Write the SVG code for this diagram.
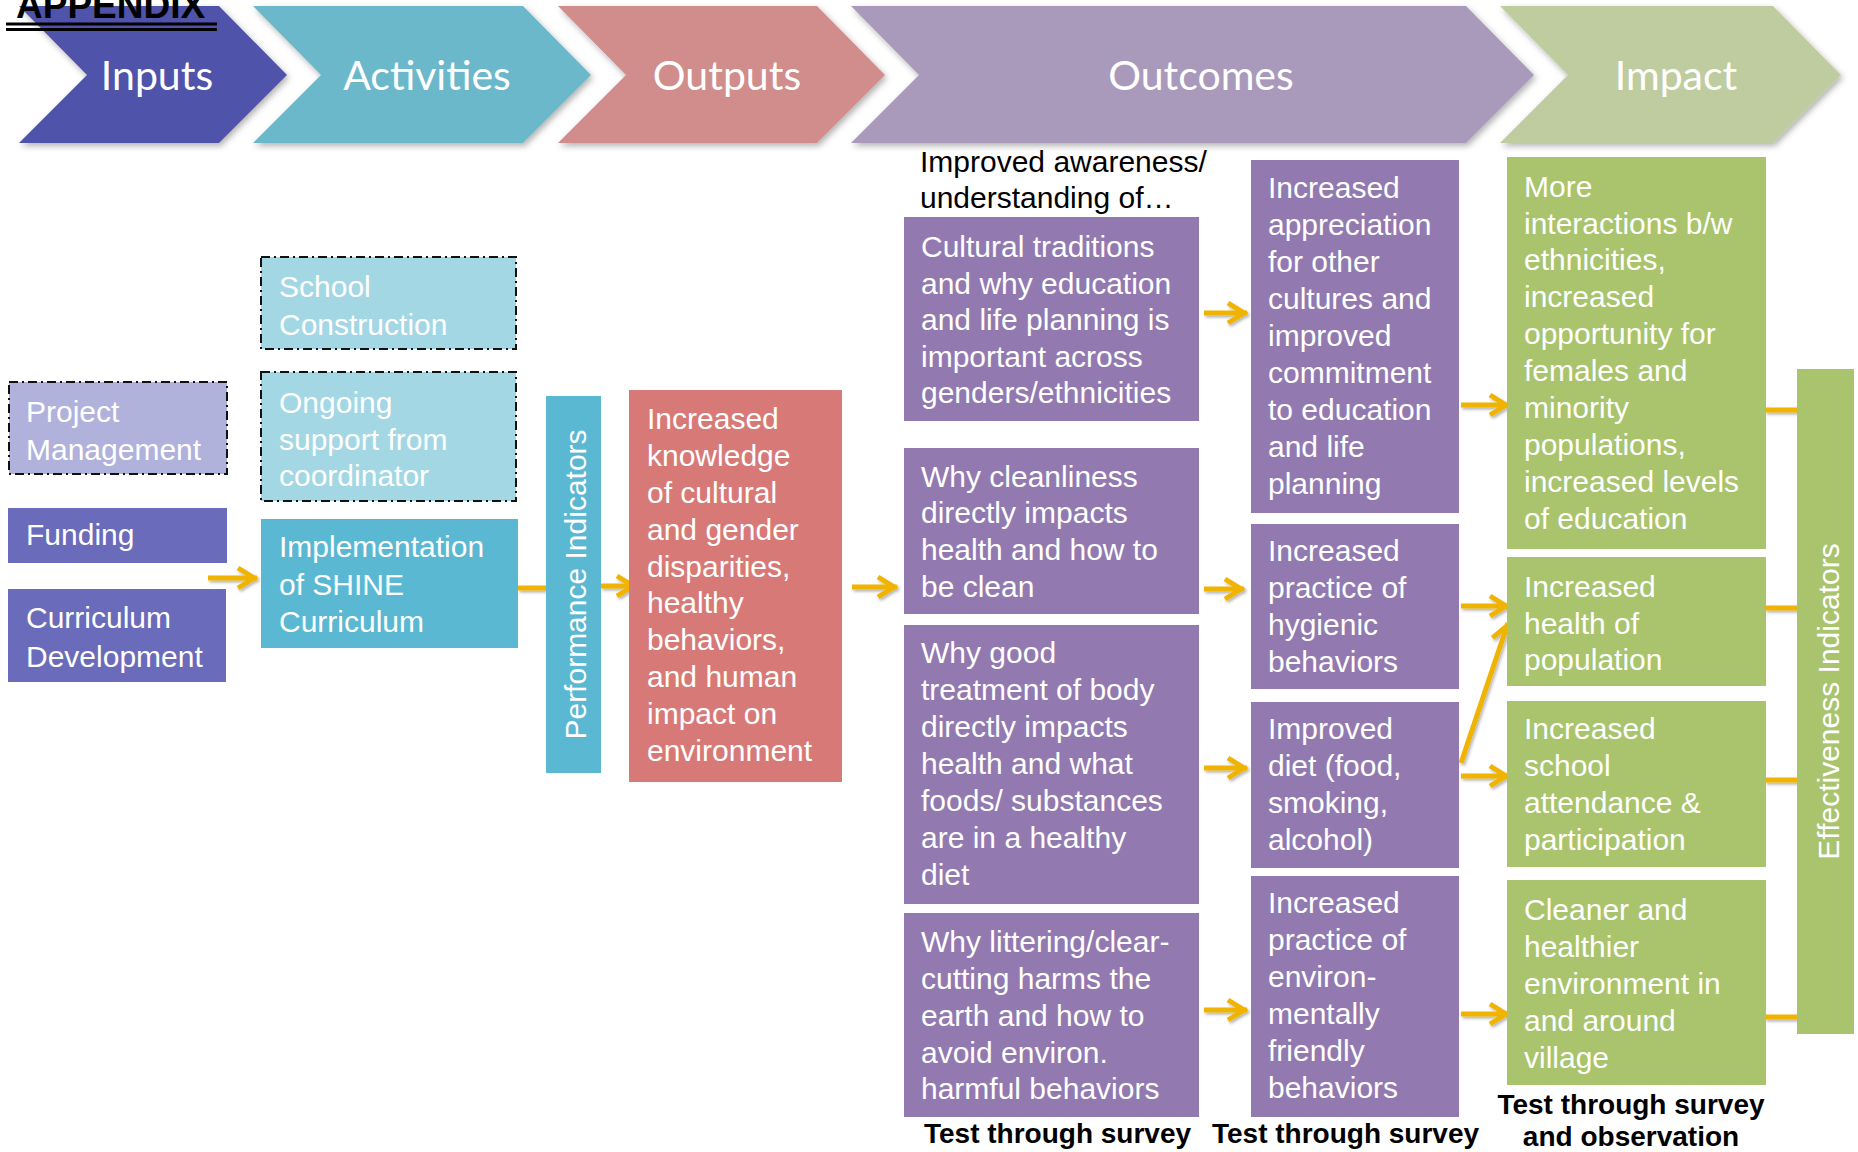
<svg xmlns="http://www.w3.org/2000/svg" width="1858" height="1152" viewBox="0 0 1858 1152">
<style>
.hd{font-family:Lato,"Open Sans",sans-serif;font-size:41px;fill:#fff;text-anchor:middle}
.t{font-family:"Liberation Sans",Arial,sans-serif;font-size:30px;fill:#fff}
.k{font-family:"Liberation Sans",Arial,sans-serif;font-size:30px;fill:#000}
.b{font-family:"Liberation Sans",Arial,sans-serif;font-size:28px;font-weight:bold;fill:#000}
.dash{stroke:#111;stroke-width:2;stroke-dasharray:9 4 2 4}
.inp{fill:#6A6BBA}
.act{fill:#5BB8D2}
.actl{fill:#A3D7E4}
.out{fill:#D77A77}
.oc{fill:#927AB0}
.im{fill:#A9C46C}
.ar{stroke:#F0B400;stroke-width:5;fill:none}
</style>
<defs>
<filter id="sh" filterUnits="userSpaceOnUse" x="0" y="0" width="1858" height="1152">
<feDropShadow dx="1.5" dy="2" stdDeviation="1.5" flood-color="#000" flood-opacity="0.3"/>
</filter>
<filter id="csh" x="-10%" y="-20%" width="120%" height="150%">
<feDropShadow dx="2" dy="3" stdDeviation="3" flood-color="#000" flood-opacity="0.3"/>
</filter>
<marker id="ah" markerUnits="userSpaceOnUse" viewBox="-24 -14 30 28" markerWidth="30" markerHeight="28" refX="0" refY="0" orient="auto" overflow="visible">
<path d="M-19,-10 L-3,0 L-19,10" fill="none" stroke="#F0B400" stroke-width="5"/>
</marker>
</defs>

<g id="header">
<g id="h-inputs"><polygon points="19,6 219,6 287,75 219,143 19,143 87,75" fill="#4F53A9" filter="url(#csh)"/><text class="hd" x="157" y="90">Inputs</text></g>
<g id="h-activities"><polygon points="253,6 523,6 591,75 523,143 253,143 321,75" fill="#6CB8CB" filter="url(#csh)"/><text class="hd" x="427" y="90">Activities</text></g>
<g id="h-outputs"><polygon points="558,6 817,6 885,75 817,143 558,143 626,75" fill="#D08D8B" filter="url(#csh)"/><text class="hd" x="727" y="90">Outputs</text></g>
<g id="h-outcomes"><polygon points="851,6 1466,6 1534,75 1466,143 851,143 919,75" fill="#A99ABB" filter="url(#csh)"/><text class="hd" x="1201" y="90">Outcomes</text></g>
<g id="h-impact"><polygon points="1500,6 1773,6 1841,75 1773,143 1500,143 1568,75" fill="#BFCC9F" filter="url(#csh)"/><text class="hd" x="1676" y="90">Impact</text></g>
</g>

<g id="appendix">
<text x="16" y="18" font-family="Liberation Sans, Arial, sans-serif" font-size="37" font-weight="bold" fill="#000">APPENDIX</text>
<line x1="6" y1="24" x2="217" y2="24" stroke="#000" stroke-width="3"/>
<line x1="6" y1="29.5" x2="217" y2="29.5" stroke="#000" stroke-width="3"/>
</g>

<g id="connectors" filter="url(#sh)">
<path class="ar" d="M208,578 L257,578" marker-end="url(#ah)"/>
<path class="ar" d="M518,588 L546,588"/>
<path class="ar" d="M601,586 L636,586" marker-end="url(#ah)"/>
<path class="ar" d="M852,587 L897,587" marker-end="url(#ah)"/>
<path class="ar" d="M1204,313 L1247,313" marker-end="url(#ah)"/>
<path class="ar" d="M1204,589 L1244,589" marker-end="url(#ah)"/>
<path class="ar" d="M1204,768 L1247,768" marker-end="url(#ah)"/>
<path class="ar" d="M1204,1010 L1247,1010" marker-end="url(#ah)"/>
<path class="ar" d="M1461,405 L1509,405" marker-end="url(#ah)"/>
<path class="ar" d="M1461,606 L1509,606" marker-end="url(#ah)"/>
<path class="ar" d="M1461,763 L1508,623" marker-end="url(#ah)"/>
<path class="ar" d="M1461,776 L1509,776" marker-end="url(#ah)"/>
<path class="ar" d="M1461,1014 L1509,1014" marker-end="url(#ah)"/>
<path class="ar" d="M1765,410 L1798,410"/>
<path class="ar" d="M1765,608 L1798,608"/>
<path class="ar" d="M1765,780 L1798,780"/>
<path class="ar" d="M1765,1017 L1798,1017"/>
</g>

<g id="project-management"><rect x="9" y="382" width="218" height="92" fill="#B0B2DC" class="dash"/><text class="t" x="26"><tspan x="26" y="422">Project</tspan><tspan x="26" y="460">Management</tspan></text></g>
<g id="funding"><rect class="inp" x="8" y="508" width="219" height="55"/><text class="t" x="26" y="545">Funding</text></g>
<g id="curriculum-development"><rect class="inp" x="8" y="589" width="218" height="93"/><text class="t"><tspan x="26" y="628">Curriculum</tspan><tspan x="26" y="667">Development</tspan></text></g>

<g id="school-construction"><rect class="actl dash" x="261" y="257" width="255" height="92"/><text class="t"><tspan x="279" y="297">School</tspan><tspan x="279" y="335">Construction</tspan></text></g>
<g id="ongoing-support"><rect class="actl dash" x="261" y="372" width="255" height="129"/><text class="t"><tspan x="279" y="413">Ongoing</tspan><tspan x="279" y="450">support from</tspan><tspan x="279" y="486">coordinator</tspan></text></g>
<g id="implementation"><rect class="act" x="261" y="519" width="257" height="129"/><text class="t"><tspan x="279" y="557">Implementation</tspan><tspan x="279" y="595">of SHINE</tspan><tspan x="279" y="632">Curriculum</tspan></text></g>

<g id="performance-indicators"><rect class="act" x="546" y="396" width="55" height="377"/><text class="t" text-anchor="middle" transform="translate(586,584.5) rotate(-90)">Performance Indicators</text></g>

<g id="output-knowledge"><rect class="out" x="629" y="390" width="213" height="392"/><text class="t"><tspan x="647" y="429">Increased</tspan><tspan x="647" y="466">knowledge</tspan><tspan x="647" y="503">of cultural</tspan><tspan x="647" y="540">and gender</tspan><tspan x="647" y="577">disparities,</tspan><tspan x="647" y="613">healthy</tspan><tspan x="647" y="650">behaviors,</tspan><tspan x="647" y="687">and human</tspan><tspan x="647" y="724">impact on</tspan><tspan x="647" y="761">environment</tspan></text></g>

<g id="awareness-label"><text class="k"><tspan x="920" y="172">Improved awareness/</tspan><tspan x="920" y="208">understanding of…</tspan></text></g>

<g id="oc-cultural"><rect class="oc" x="904" y="217" width="295" height="204"/><text class="t"><tspan x="921" y="257">Cultural traditions</tspan><tspan x="921" y="293.5">and why education</tspan><tspan x="921" y="330">and life planning is</tspan><tspan x="921" y="366.5">important across</tspan><tspan x="921" y="403">genders/ethnicities</tspan></text></g>
<g id="oc-cleanliness"><rect class="oc" x="904" y="448" width="295" height="166"/><text class="t"><tspan x="921" y="487">Why cleanliness</tspan><tspan x="921" y="523">directly impacts</tspan><tspan x="921" y="560">health and how to</tspan><tspan x="921" y="597">be clean</tspan></text></g>
<g id="oc-body"><rect class="oc" x="904" y="625" width="295" height="279"/><text class="t"><tspan x="921" y="663">Why good</tspan><tspan x="921" y="700">treatment of body</tspan><tspan x="921" y="737">directly impacts</tspan><tspan x="921" y="774">health and what</tspan><tspan x="921" y="811">foods/ substances</tspan><tspan x="921" y="848">are in a healthy</tspan><tspan x="921" y="885">diet</tspan></text></g>
<g id="oc-littering"><rect class="oc" x="904" y="913" width="295" height="204"/><text class="t"><tspan x="921" y="952">Why littering/clear-</tspan><tspan x="921" y="989">cutting harms the</tspan><tspan x="921" y="1026">earth and how to</tspan><tspan x="921" y="1063">avoid environ.</tspan><tspan x="921" y="1099">harmful behaviors</tspan></text></g>

<g id="oc-appreciation"><rect class="oc" x="1251" y="160" width="208" height="353"/><text class="t"><tspan x="1268" y="198">Increased</tspan><tspan x="1268" y="235">appreciation</tspan><tspan x="1268" y="272">for other</tspan><tspan x="1268" y="309">cultures and</tspan><tspan x="1268" y="346">improved</tspan><tspan x="1268" y="383">commitment</tspan><tspan x="1268" y="420">to education</tspan><tspan x="1268" y="457">and life</tspan><tspan x="1268" y="494">planning</tspan></text></g>
<g id="oc-hygienic"><rect class="oc" x="1251" y="524" width="208" height="165"/><text class="t"><tspan x="1268" y="561">Increased</tspan><tspan x="1268" y="598">practice of</tspan><tspan x="1268" y="635">hygienic</tspan><tspan x="1268" y="672">behaviors</tspan></text></g>
<g id="oc-diet"><rect class="oc" x="1251" y="702" width="208" height="166"/><text class="t"><tspan x="1268" y="739">Improved</tspan><tspan x="1268" y="776">diet (food,</tspan><tspan x="1268" y="813">smoking,</tspan><tspan x="1268" y="850">alcohol)</tspan></text></g>
<g id="oc-environ"><rect class="oc" x="1251" y="876" width="208" height="241"/><text class="t"><tspan x="1268" y="913">Increased</tspan><tspan x="1268" y="950">practice of</tspan><tspan x="1268" y="987">environ-</tspan><tspan x="1268" y="1024">mentally</tspan><tspan x="1268" y="1061">friendly</tspan><tspan x="1268" y="1098">behaviors</tspan></text></g>

<g id="im-interactions"><rect class="im" x="1507" y="157" width="259" height="392"/><text class="t"><tspan x="1524" y="197">More</tspan><tspan x="1524" y="234">interactions b/w</tspan><tspan x="1524" y="270">ethnicities,</tspan><tspan x="1524" y="307">increased</tspan><tspan x="1524" y="344">opportunity for</tspan><tspan x="1524" y="381">females and</tspan><tspan x="1524" y="418">minority</tspan><tspan x="1524" y="455">populations,</tspan><tspan x="1524" y="492">increased levels</tspan><tspan x="1524" y="529">of education</tspan></text></g>
<g id="im-health"><rect class="im" x="1507" y="557" width="259" height="129"/><text class="t"><tspan x="1524" y="597">Increased</tspan><tspan x="1524" y="634">health of</tspan><tspan x="1524" y="670">population</tspan></text></g>
<g id="im-school"><rect class="im" x="1507" y="701" width="259" height="166"/><text class="t"><tspan x="1524" y="739">Increased</tspan><tspan x="1524" y="776">school</tspan><tspan x="1524" y="813">attendance &amp;</tspan><tspan x="1524" y="850">participation</tspan></text></g>
<g id="im-cleaner"><rect class="im" x="1507" y="880" width="259" height="205"/><text class="t"><tspan x="1524" y="920">Cleaner and</tspan><tspan x="1524" y="957">healthier</tspan><tspan x="1524" y="994">environment in</tspan><tspan x="1524" y="1031">and around</tspan><tspan x="1524" y="1068">village</tspan></text></g>

<g id="effectiveness-indicators"><rect class="im" x="1797" y="369" width="57" height="665"/><text class="t" text-anchor="middle" transform="translate(1839,701.5) rotate(-90)">Effectiveness Indicators</text></g>

<g id="test-labels">
<text class="b" x="924" y="1143">Test through survey</text>
<text class="b" x="1212" y="1143">Test through survey</text>
<text class="b" text-anchor="middle"><tspan x="1631" y="1114">Test through survey</tspan><tspan x="1631" y="1146">and observation</tspan></text>
</g>
</svg>
